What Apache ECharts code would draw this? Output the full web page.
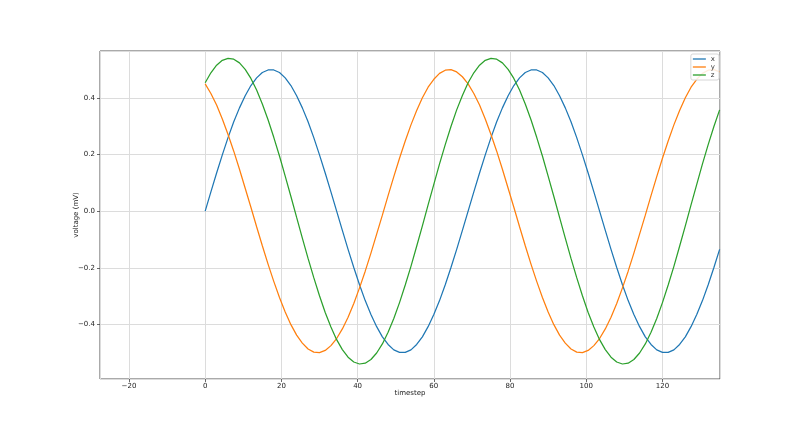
<!DOCTYPE html>
<html>
<head>
<meta charset="utf-8">
<script src="https://cdn.jsdelivr.net/npm/echarts@6/dist/echarts.min.js"></script>
<style>html,body{margin:0;padding:0;background:#fff;}#chart{width:800px;height:426px;}</style>
</head>
<body>
<div id="chart"></div>
<script>
// timesteps (every 1.5 steps)
const timesteps = [0,1.5,3,4.5,6,7.5,9,10.5,12,13.5,15,16.5,18,19.5,21,22.5,24,25.5,27,28.5,30,31.5,33,34.5,36,37.5,39,40.5,42,43.5,45,46.5,48,49.5,51,52.5,54,55.5,57,58.5,60,61.5,63,64.5,66,67.5,
                   69,70.5,72,73.5,75,76.5,78,79.5,81,82.5,84,85.5,87,88.5,90,91.5,93,94.5,96,97.5,99,100.5,102,103.5,105,106.5,108,109.5,111,112.5,114,115.5,117,118.5,120,121.5,123,124.5,126,127.5,129,130.5,132,133.5,135];
const xValues = [0.000,0.068,0.135,0.199,0.260,0.316,0.365,0.408,0.444,0.471,0.490,0.499,0.499,0.490,0.471,0.444,0.408,0.365,0.316,0.260,0.199,0.135,0.068,
                 0.000,-0.068,-0.135,-0.199,-0.260,-0.316,-0.365,-0.408,-0.444,-0.471,-0.490,-0.499,-0.499,-0.490,-0.471,-0.444,-0.408,-0.365,-0.316,-0.260,-0.199,-0.135,-0.068,
                 0.000,0.068,0.135,0.199,0.260,0.316,0.365,0.408,0.444,0.471,0.490,0.499,0.499,0.490,0.471,0.444,0.408,0.365,0.316,0.260,0.199,0.135,0.068,
                 0.000,-0.068,-0.135,-0.199,-0.260,-0.316,-0.365,-0.408,-0.444,-0.471,-0.490,-0.499,-0.499,-0.490,-0.471,-0.444,-0.408,-0.365,-0.316,-0.260,-0.199,-0.135];
const yValues = [0.450,0.416,0.375,0.326,0.271,0.212,0.148,0.081,0.014,-0.055,-0.122,-0.187,-0.248,-0.305,-0.356,-0.401,-0.438,-0.466,-0.487,-0.498,-0.500,-0.492,-0.475,
                 -0.450,-0.416,-0.375,-0.326,-0.271,-0.212,-0.148,-0.081,-0.014,0.055,0.122,0.187,0.248,0.305,0.356,0.401,0.438,0.466,0.487,0.498,0.500,0.492,0.475,
                 0.450,0.416,0.375,0.326,0.271,0.212,0.148,0.081,0.014,-0.055,-0.122,-0.187,-0.248,-0.305,-0.356,-0.401,-0.438,-0.466,-0.487,-0.498,-0.500,-0.492,-0.475,
                 -0.450,-0.416,-0.375,-0.326,-0.271,-0.212,-0.148,-0.081,-0.014,0.055,0.122,0.187,0.248,0.305,0.356,0.401,0.438,0.466,0.487,0.498,0.500,0.492];
const zValues = [0.454,0.489,0.516,0.533,0.540,0.537,0.524,0.501,0.469,0.428,0.379,0.323,0.261,0.195,0.124,0.052,-0.022,-0.095,-0.167,-0.235,-0.299,-0.358,-0.409,
                 -0.454,-0.489,-0.516,-0.533,-0.540,-0.537,-0.524,-0.501,-0.469,-0.428,-0.379,-0.323,-0.261,-0.195,-0.124,-0.052,0.022,0.095,0.167,0.235,0.299,0.358,0.409,
                 0.454,0.489,0.516,0.533,0.540,0.537,0.524,0.501,0.469,0.428,0.379,0.323,0.261,0.195,0.124,0.052,-0.022,-0.095,-0.167,-0.235,-0.299,-0.358,-0.409,
                 -0.454,-0.489,-0.516,-0.533,-0.540,-0.537,-0.524,-0.501,-0.469,-0.428,-0.379,-0.323,-0.261,-0.195,-0.124,-0.052,0.022,0.095,0.167,0.235,0.299,0.358];
const seriesNames = ['x','y','z'];
const xTickLabels = ['−20','0','20','40','60','80','100','120'];
const yTickLabels = ['−0.4','−0.2','0.0','0.2','0.4'];

const colors = ['#1f77b4','#ff7f0e','#2ca02c'];
const font = 'DejaVu Sans';
function pairs(vals){ return timesteps.map((t,i)=>[t, vals[i]]); }
function fmtX(v){ return String(Math.round(v)).replace('-', '−'); }
function fmtY(v){ return (Math.round(v*10)/10).toFixed(1).replace('-', '−'); }

const chart = echarts.init(document.getElementById('chart'), null, {renderer:'canvas'});
const allVals = [xValues, yValues, zValues];
chart.setOption({
  animation: false,
  backgroundColor: '#fff',
  color: colors,
  grid: {left: 100, right: 80, top: 51, bottom: 47, show: true, borderColor: '#555', borderWidth: 1, backgroundColor: 'transparent'},
  legend: {
    show: true, orient: 'vertical', right: 81, top: 54,
    data: seriesNames, icon: 'rect',
    backgroundColor: 'rgba(255,255,255,0.85)', borderColor: '#d6d6d6', borderWidth: 1, borderRadius: 2,
    padding: [1, 4, 1, 2], itemGap: 0, itemWidth: 13, itemHeight: 1.3,
    textStyle: {fontFamily: font, fontSize: 7, color: '#333', lineHeight: 8, padding: [0,0,0,0]}
  },
  xAxis: {
    type: 'value', min: -27.6, max: 135.1, splitNumber: 8, minInterval: 20, maxInterval: 20,
    name: 'timestep', nameLocation: 'middle', nameGap: 11, nameMoveOverlap: false,
    nameTextStyle: {fontFamily: font, fontSize: 7, color: '#222'},
    axisLine: {show: false, onZero: false},
    axisTick: {show: true, length: 3, lineStyle: {color: '#444', width: 0.8}},
    axisLabel: {fontFamily: font, fontSize: 7, color: '#222', margin: 4, showMinLabel: false, showMaxLabel: false,
      formatter: v => { const s = fmtX(v); return xTickLabels.includes(s) ? s : ''; }},
    splitLine: {show: true, lineStyle: {color: '#dcdcdc', width: 1}}
  },
  yAxis: {
    type: 'value', min: -0.593, max: 0.566, splitNumber: 5, minInterval: 0.2, maxInterval: 0.2,
    name: 'voltage (mV)', nameLocation: 'middle', nameGap: 20, nameRotate: 90, nameMoveOverlap: false,
    nameTextStyle: {fontFamily: font, fontSize: 7, color: '#222'},
    axisLine: {show: false, onZero: false},
    axisTick: {show: true, length: 3, lineStyle: {color: '#444', width: 0.8}},
    axisLabel: {fontFamily: font, fontSize: 7, color: '#222', margin: 5, showMinLabel: false, showMaxLabel: false,
      formatter: v => { const s = fmtY(v); return yTickLabels.includes(s) ? s : ''; }},
    splitLine: {show: true, lineStyle: {color: '#dcdcdc', width: 1}}
  },
  series: seriesNames.map((n, i) => ({
    name: n, type: 'line', data: pairs(allVals[i]), smooth: false, showSymbol: false, symbol: 'none',
    lineStyle: {width: 1.25, color: colors[i]}, itemStyle: {color: colors[i]}, clip: true
  }))
});
</script>
</body>
</html>
